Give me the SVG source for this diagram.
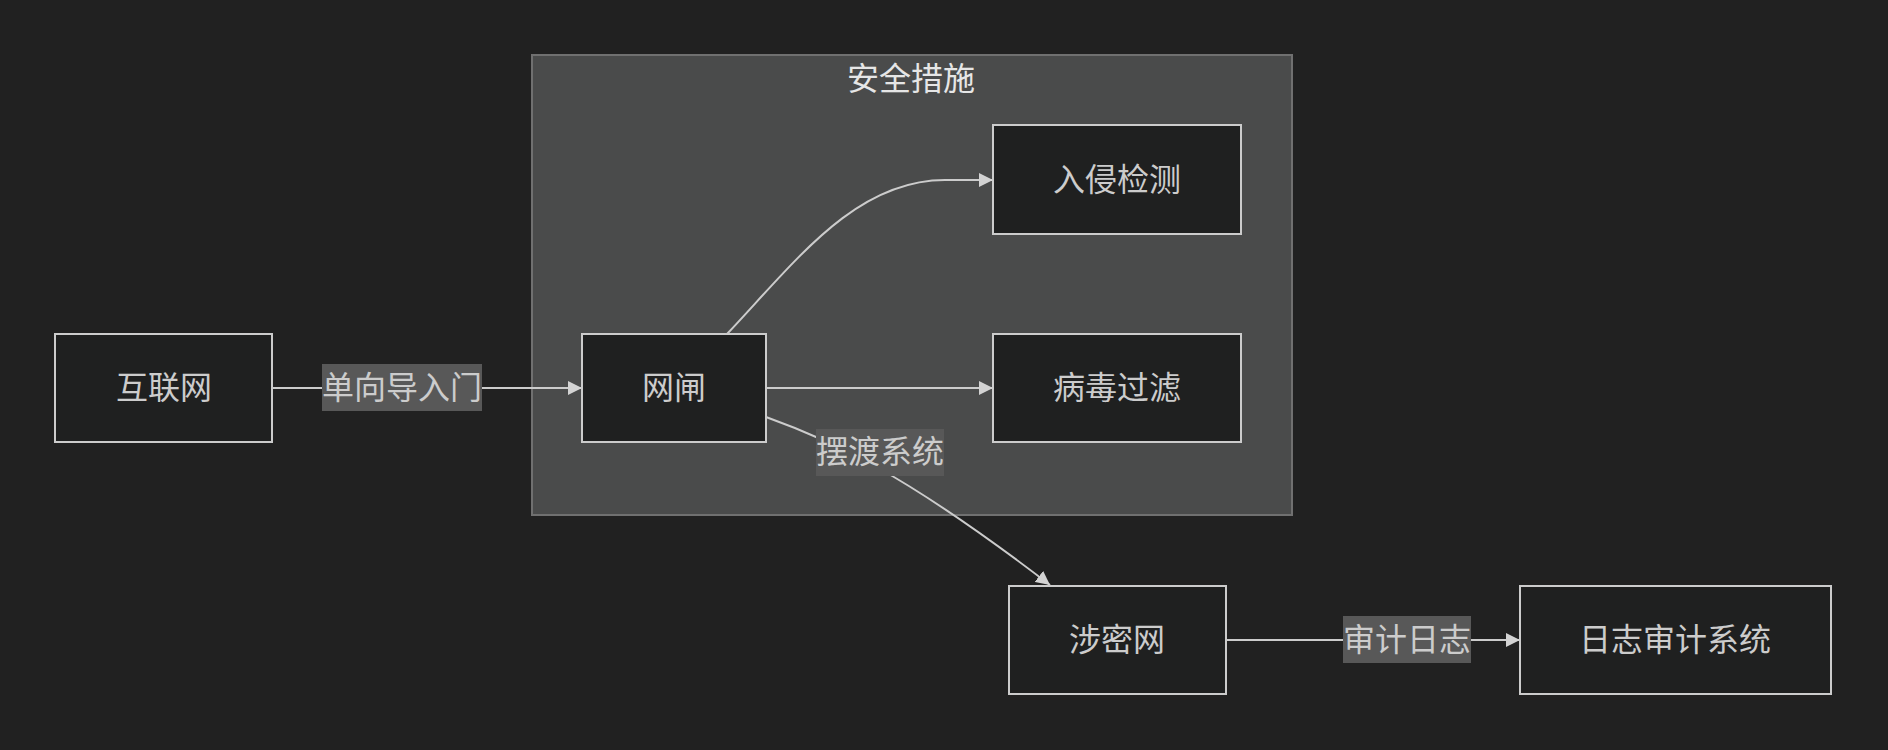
<svg xmlns="http://www.w3.org/2000/svg" width="1888" height="750" viewBox="0 0 1888 750">
<defs>
<marker id="arr" viewBox="0 0 14 14" refX="14" refY="7" markerWidth="14" markerHeight="14" markerUnits="userSpaceOnUse" orient="auto">
<path d="M0,0 L14,7 L0,14 Z" fill="#d3d3d3"/>
</marker>
<style>
.node rect{fill:#1f2020;stroke:#cccccc;stroke-width:2}
.t{font-family:"Noto Sans CJK SC","Liberation Sans",sans-serif;font-size:32px;fill:#cccccc;text-anchor:middle;dominant-baseline:central}
.edge{fill:none;stroke:#cccccc;stroke-width:2}
.lbl{fill:#585858}
</style>
</defs>
<rect width="1888" height="750" fill="#212121"/>
<g id="cluster_security">
<rect x="532" y="55" width="760" height="460" fill="#4a4b4b" stroke="#707070" stroke-width="2"/>
<text class="t" x="911" y="76" style="fill:#e6e6e6">安全措施</text>
</g>
<g id="edges">
<path class="edge" d="M272,388 L582,388" marker-end="url(#arr)"/>
<path class="edge" d="M766,388 L993,388" marker-end="url(#arr)"/>
<path class="edge" d="M727,334 C795,262 855,180 945,180 L993,180" marker-end="url(#arr)"/>
<path class="edge" d="M766,417 C830,440 900,470 1050,585" marker-end="url(#arr)"/>
<path class="edge" d="M1226,640 L1520,640" marker-end="url(#arr)"/>
<rect class="lbl" x="322" y="364" width="160" height="47"/>
<text class="t" x="402" y="385">单向导入门</text>
<rect class="lbl" x="816" y="429" width="128" height="47"/>
<text class="t" x="880" y="449">摆渡系统</text>
<rect class="lbl" x="1343" y="616" width="128" height="47"/>
<text class="t" x="1407" y="637">审计日志</text>
</g>
<g id="n_internet" class="node"><rect x="55" y="334" width="217" height="108"/><text class="t" x="164" y="385">互联网</text></g>
<g id="n_gate" class="node"><rect x="582" y="334" width="184" height="108"/><text class="t" x="674" y="385">网闸</text></g>
<g id="n_ids" class="node"><rect x="993" y="125" width="248" height="109"/><text class="t" x="1117" y="177">入侵检测</text></g>
<g id="n_av" class="node"><rect x="993" y="334" width="248" height="108"/><text class="t" x="1117" y="385">病毒过滤</text></g>
<g id="n_secret" class="node"><rect x="1009" y="586" width="217" height="108"/><text class="t" x="1117" y="637">涉密网</text></g>
<g id="n_audit" class="node"><rect x="1520" y="586" width="311" height="108"/><text class="t" x="1675" y="637">日志审计系统</text></g>
</svg>
